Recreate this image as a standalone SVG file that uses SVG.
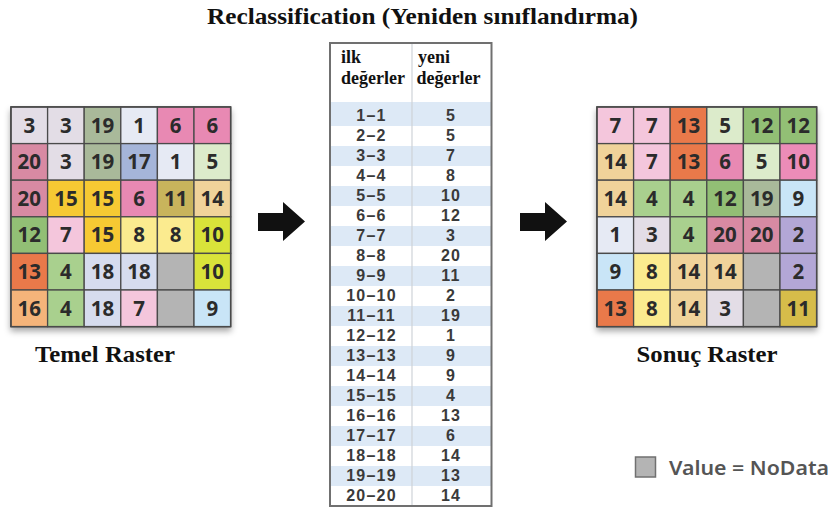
<svg xmlns="http://www.w3.org/2000/svg" width="832" height="510" viewBox="0 0 832 510">
<style>
.title{font-family:"Liberation Serif",serif;font-weight:bold;font-size:23px;fill:#111}
.lbl{font-family:"Liberation Serif",serif;font-weight:bold;font-size:23px;fill:#111;text-anchor:middle}
.hdr{font-family:"Liberation Serif",serif;font-weight:bold;font-size:18px;fill:#111}
.cell rect{stroke:#4a4a4a;stroke-width:1.3}
.cell text{font-family:"Noto Sans",sans-serif;font-weight:bold;font-size:20.5px;fill:#2b2b2b;text-anchor:middle}
.tv{font-family:"Liberation Sans",sans-serif;font-weight:bold;font-size:16px;fill:#3a3a3a;text-anchor:middle;letter-spacing:1.2px}
.band{fill:#dde9f6}
.c3{fill:#e3dde6}.c19{fill:#a9b99a}.c1{fill:#e6eaf4}.c6{fill:#e889b3}.c20{fill:#d88aa3}
.c17{fill:#a5b5d9}.c5{fill:#dcebcb}.c15{fill:#f6c933}.c11{fill:#c8b45c}.c14{fill:#f0d39a}
.c12{fill:#92bf75}.c7{fill:#f4c6dc}.c8{fill:#fbeb8f}.c10{fill:#d9e33a}.c13{fill:#e9794a}
.c4{fill:#a9d08e}.c18{fill:#d6dcee}.nd{fill:#b4b4b4}.c16{fill:#f5b47a}.c9{fill:#c9e5f7}
.c2{fill:#b3a7d6}.c10p{fill:#ec8cb8}.c11b{fill:#d6bc4a}
.arrow{fill:#111}
</style>
<defs>
<filter id="sh" x="-10%" y="-10%" width="120%" height="125%">
<feDropShadow dx="0" dy="4" stdDeviation="3" flood-color="#000" flood-opacity="0.35"/>
</filter>
</defs>
<rect width="832" height="510" fill="#fff"/>
<text id="title" class="title" x="207" y="24" textLength="431" lengthAdjust="spacingAndGlyphs">Reclassification (Yeniden sınıflandırma)</text>

<g id="temel-raster" class="cell">
<rect x="11" y="107" width="219.6" height="219.6" fill="#fff" filter="url(#sh)" stroke="none"/>
<rect class="c3" x="11" y="107" width="36.6" height="36.6"/><rect class="c3" x="47.6" y="107" width="36.6" height="36.6"/><rect class="c19" x="84.2" y="107" width="36.6" height="36.6"/><rect class="c1" x="120.8" y="107" width="36.6" height="36.6"/><rect class="c6" x="157.4" y="107" width="36.6" height="36.6"/><rect class="c6" x="194" y="107" width="36.6" height="36.6"/>
<rect class="c20" x="11" y="143.6" width="36.6" height="36.6"/><rect class="c3" x="47.6" y="143.6" width="36.6" height="36.6"/><rect class="c19" x="84.2" y="143.6" width="36.6" height="36.6"/><rect class="c17" x="120.8" y="143.6" width="36.6" height="36.6"/><rect class="c1" x="157.4" y="143.6" width="36.6" height="36.6"/><rect class="c5" x="194" y="143.6" width="36.6" height="36.6"/>
<rect class="c20" x="11" y="180.2" width="36.6" height="36.6"/><rect class="c15" x="47.6" y="180.2" width="36.6" height="36.6"/><rect class="c15" x="84.2" y="180.2" width="36.6" height="36.6"/><rect class="c6" x="120.8" y="180.2" width="36.6" height="36.6"/><rect class="c11" x="157.4" y="180.2" width="36.6" height="36.6"/><rect class="c14" x="194" y="180.2" width="36.6" height="36.6"/>
<rect class="c12" x="11" y="216.8" width="36.6" height="36.6"/><rect class="c7" x="47.6" y="216.8" width="36.6" height="36.6"/><rect class="c15" x="84.2" y="216.8" width="36.6" height="36.6"/><rect class="c8" x="120.8" y="216.8" width="36.6" height="36.6"/><rect class="c8" x="157.4" y="216.8" width="36.6" height="36.6"/><rect class="c10" x="194" y="216.8" width="36.6" height="36.6"/>
<rect class="c13" x="11" y="253.4" width="36.6" height="36.6"/><rect class="c4" x="47.6" y="253.4" width="36.6" height="36.6"/><rect class="c18" x="84.2" y="253.4" width="36.6" height="36.6"/><rect class="c18" x="120.8" y="253.4" width="36.6" height="36.6"/><rect class="nd" x="157.4" y="253.4" width="36.6" height="36.6"/><rect class="c10" x="194" y="253.4" width="36.6" height="36.6"/>
<rect class="c16" x="11" y="290" width="36.6" height="36.6"/><rect class="c4" x="47.6" y="290" width="36.6" height="36.6"/><rect class="c18" x="84.2" y="290" width="36.6" height="36.6"/><rect class="c7" x="120.8" y="290" width="36.6" height="36.6"/><rect class="nd" x="157.4" y="290" width="36.6" height="36.6"/><rect class="c9" x="194" y="290" width="36.6" height="36.6"/>
<rect x="11" y="107" width="219.6" height="219.6" fill="none" stroke="#444" stroke-width="2"/>
<text x="29.3" y="132.6">3</text><text x="65.9" y="132.6">3</text><text x="102.5" y="132.6">19</text><text x="139.1" y="132.6">1</text><text x="175.7" y="132.6">6</text><text x="212.3" y="132.6">6</text>
<text x="29.3" y="169.2">20</text><text x="65.9" y="169.2">3</text><text x="102.5" y="169.2">19</text><text x="139.1" y="169.2">17</text><text x="175.7" y="169.2">1</text><text x="212.3" y="169.2">5</text>
<text x="29.3" y="205.8">20</text><text x="65.9" y="205.8">15</text><text x="102.5" y="205.8">15</text><text x="139.1" y="205.8">6</text><text x="175.7" y="205.8">11</text><text x="212.3" y="205.8">14</text>
<text x="29.3" y="242.4">12</text><text x="65.9" y="242.4">7</text><text x="102.5" y="242.4">15</text><text x="139.1" y="242.4">8</text><text x="175.7" y="242.4">8</text><text x="212.3" y="242.4">10</text>
<text x="29.3" y="279">13</text><text x="65.9" y="279">4</text><text x="102.5" y="279">18</text><text x="139.1" y="279">18</text><text x="212.3" y="279">10</text>
<text x="29.3" y="315.6">16</text><text x="65.9" y="315.6">4</text><text x="102.5" y="315.6">18</text><text x="139.1" y="315.6">7</text><text x="212.3" y="315.6">9</text>
</g>
<text id="temel-label" class="lbl" x="105" y="362" textLength="140" lengthAdjust="spacingAndGlyphs">Temel Raster</text>

<g id="connectors">
<path class="arrow" d="M258,213 L283,213 L283,202 L305,221.5 L283,241 L283,231 L258,231 Z"/>
<path class="arrow" d="M520,213 L545,213 L545,202 L567,221.5 L545,241 L545,231 L520,231 Z"/>
</g>

<g id="reclass-table">
<rect x="330" y="43" width="161.5" height="463" fill="#fff"/>
<rect class="band" x="331" y="102" width="160" height="24"/>
<rect class="band" x="331" y="146" width="160" height="20"/>
<rect class="band" x="331" y="186" width="160" height="20"/>
<rect class="band" x="331" y="226" width="160" height="20"/>
<rect class="band" x="331" y="266" width="160" height="20"/>
<rect class="band" x="331" y="306" width="160" height="20"/>
<rect class="band" x="331" y="346" width="160" height="20"/>
<rect class="band" x="331" y="386" width="160" height="20"/>
<rect class="band" x="331" y="426" width="160" height="20"/>
<rect class="band" x="331" y="466" width="160" height="20"/>
<line x1="412" y1="44" x2="412" y2="505" stroke="#cfd3d8" stroke-width="1.2"/>
<rect x="330" y="43" width="161.5" height="463" fill="none" stroke="#707070" stroke-width="2"/>
<text class="hdr" x="341" y="63">ilk</text>
<text class="hdr" x="341" y="84">değerler</text>
<text class="hdr" x="418" y="63">yeni</text>
<text class="hdr" x="416.5" y="84">değerler</text>
<text class="tv" x="371.5" y="121">1–1</text><text class="tv" x="451" y="121">5</text>
<text class="tv" x="371.5" y="141">2–2</text><text class="tv" x="451" y="141">5</text>
<text class="tv" x="371.5" y="161">3–3</text><text class="tv" x="451" y="161">7</text>
<text class="tv" x="371.5" y="181">4–4</text><text class="tv" x="451" y="181">8</text>
<text class="tv" x="371.5" y="201">5–5</text><text class="tv" x="451" y="201">10</text>
<text class="tv" x="371.5" y="221">6–6</text><text class="tv" x="451" y="221">12</text>
<text class="tv" x="371.5" y="241">7–7</text><text class="tv" x="451" y="241">3</text>
<text class="tv" x="371.5" y="261">8–8</text><text class="tv" x="451" y="261">20</text>
<text class="tv" x="371.5" y="281">9–9</text><text class="tv" x="451" y="281">11</text>
<text class="tv" x="371.5" y="301">10–10</text><text class="tv" x="451" y="301">2</text>
<text class="tv" x="371.5" y="321">11–11</text><text class="tv" x="451" y="321">19</text>
<text class="tv" x="371.5" y="341">12–12</text><text class="tv" x="451" y="341">1</text>
<text class="tv" x="371.5" y="361">13–13</text><text class="tv" x="451" y="361">9</text>
<text class="tv" x="371.5" y="381">14–14</text><text class="tv" x="451" y="381">9</text>
<text class="tv" x="371.5" y="401">15–15</text><text class="tv" x="451" y="401">4</text>
<text class="tv" x="371.5" y="421">16–16</text><text class="tv" x="451" y="421">13</text>
<text class="tv" x="371.5" y="441">17–17</text><text class="tv" x="451" y="441">6</text>
<text class="tv" x="371.5" y="461">18–18</text><text class="tv" x="451" y="461">14</text>
<text class="tv" x="371.5" y="481">19–19</text><text class="tv" x="451" y="481">13</text>
<text class="tv" x="371.5" y="501">20–20</text><text class="tv" x="451" y="501">14</text>
</g>

<g id="sonuc-raster" class="cell">
<rect x="597" y="107" width="219.6" height="219.6" fill="#fff" filter="url(#sh)" stroke="none"/>
<rect class="c7" x="597" y="107" width="36.6" height="36.6"/><rect class="c7" x="633.6" y="107" width="36.6" height="36.6"/><rect class="c13" x="670.2" y="107" width="36.6" height="36.6"/><rect class="c5" x="706.8" y="107" width="36.6" height="36.6"/><rect class="c12" x="743.4" y="107" width="36.6" height="36.6"/><rect class="c12" x="780" y="107" width="36.6" height="36.6"/>
<rect class="c14" x="597" y="143.6" width="36.6" height="36.6"/><rect class="c7" x="633.6" y="143.6" width="36.6" height="36.6"/><rect class="c13" x="670.2" y="143.6" width="36.6" height="36.6"/><rect class="c6" x="706.8" y="143.6" width="36.6" height="36.6"/><rect class="c5" x="743.4" y="143.6" width="36.6" height="36.6"/><rect class="c10p" x="780" y="143.6" width="36.6" height="36.6"/>
<rect class="c14" x="597" y="180.2" width="36.6" height="36.6"/><rect class="c4" x="633.6" y="180.2" width="36.6" height="36.6"/><rect class="c4" x="670.2" y="180.2" width="36.6" height="36.6"/><rect class="c12" x="706.8" y="180.2" width="36.6" height="36.6"/><rect class="c19" x="743.4" y="180.2" width="36.6" height="36.6"/><rect class="c9" x="780" y="180.2" width="36.6" height="36.6"/>
<rect class="c1" x="597" y="216.8" width="36.6" height="36.6"/><rect class="c3" x="633.6" y="216.8" width="36.6" height="36.6"/><rect class="c4" x="670.2" y="216.8" width="36.6" height="36.6"/><rect class="c20" x="706.8" y="216.8" width="36.6" height="36.6"/><rect class="c20" x="743.4" y="216.8" width="36.6" height="36.6"/><rect class="c2" x="780" y="216.8" width="36.6" height="36.6"/>
<rect class="c9" x="597" y="253.4" width="36.6" height="36.6"/><rect class="c8" x="633.6" y="253.4" width="36.6" height="36.6"/><rect class="c14" x="670.2" y="253.4" width="36.6" height="36.6"/><rect class="c14" x="706.8" y="253.4" width="36.6" height="36.6"/><rect class="nd" x="743.4" y="253.4" width="36.6" height="36.6"/><rect class="c2" x="780" y="253.4" width="36.6" height="36.6"/>
<rect class="c13" x="597" y="290" width="36.6" height="36.6"/><rect class="c8" x="633.6" y="290" width="36.6" height="36.6"/><rect class="c14" x="670.2" y="290" width="36.6" height="36.6"/><rect class="c3" x="706.8" y="290" width="36.6" height="36.6"/><rect class="nd" x="743.4" y="290" width="36.6" height="36.6"/><rect class="c11b" x="780" y="290" width="36.6" height="36.6"/>
<rect x="597" y="107" width="219.6" height="219.6" fill="none" stroke="#444" stroke-width="2"/>
<text x="615.3" y="132.6">7</text><text x="651.9" y="132.6">7</text><text x="688.5" y="132.6">13</text><text x="725.1" y="132.6">5</text><text x="761.7" y="132.6">12</text><text x="798.3" y="132.6">12</text>
<text x="615.3" y="169.2">14</text><text x="651.9" y="169.2">7</text><text x="688.5" y="169.2">13</text><text x="725.1" y="169.2">6</text><text x="761.7" y="169.2">5</text><text x="798.3" y="169.2">10</text>
<text x="615.3" y="205.8">14</text><text x="651.9" y="205.8">4</text><text x="688.5" y="205.8">4</text><text x="725.1" y="205.8">12</text><text x="761.7" y="205.8">19</text><text x="798.3" y="205.8">9</text>
<text x="615.3" y="242.4">1</text><text x="651.9" y="242.4">3</text><text x="688.5" y="242.4">4</text><text x="725.1" y="242.4">20</text><text x="761.7" y="242.4">20</text><text x="798.3" y="242.4">2</text>
<text x="615.3" y="279">9</text><text x="651.9" y="279">8</text><text x="688.5" y="279">14</text><text x="725.1" y="279">14</text><text x="798.3" y="279">2</text>
<text x="615.3" y="315.6">13</text><text x="651.9" y="315.6">8</text><text x="688.5" y="315.6">14</text><text x="725.1" y="315.6">3</text><text x="798.3" y="315.6">11</text>
</g>
<text id="sonuc-label" class="lbl" x="707" y="362" textLength="141" lengthAdjust="spacingAndGlyphs">Sonuç Raster</text>

<g id="legend">
<rect x="635.5" y="457" width="20" height="20" fill="#b4b4b4" stroke="#707070" stroke-width="1.5"/>
<text x="669" y="474.5" font-family="Noto Sans, sans-serif" font-weight="600" font-size="19" fill="#555" textLength="160" lengthAdjust="spacingAndGlyphs">Value = NoData</text>
</g>
</svg>
